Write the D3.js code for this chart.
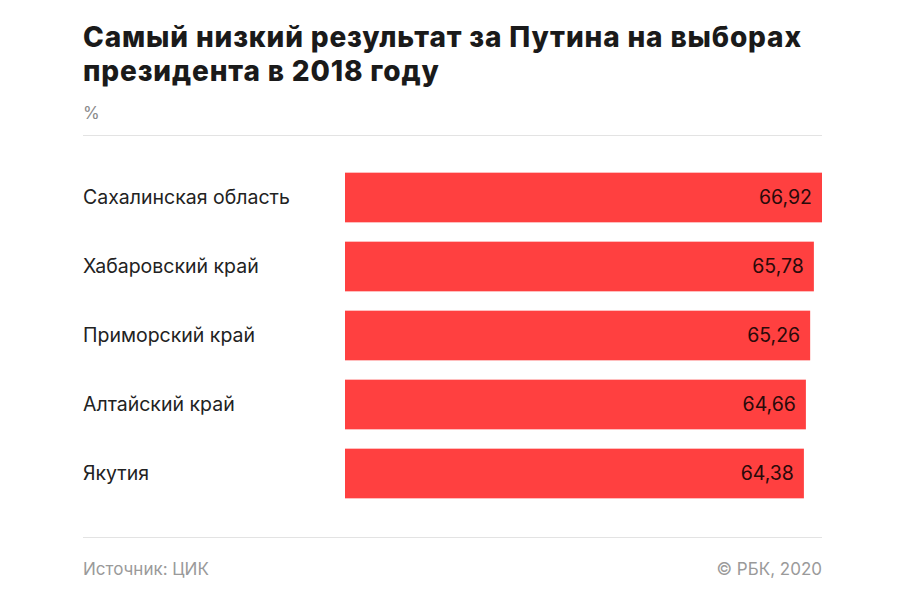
<!DOCTYPE html>
<html><head><meta charset="utf-8">
<script src="https://cdn.jsdelivr.net/npm/d3@7"></script>
<style>body{margin:0;background:#fff;} svg{display:block;}</style>
</head><body>
<svg id="chart" width="900" height="600"></svg>
<script>
const categories = ["Сахалинская область","Хабаровский край","Приморский край","Алтайский край","Якутия"];
const values = [66.92, 65.78, 65.26, 64.66, 64.38];
const valueLabels = ["66,92","65,78","65,26","64,66","64,38"];
const titleLines = ["Самый низкий результат за Путина на выборах","президента в 2018 году"];

const svg = d3.select("#chart");
const font = "Inter, 'Open Sans', sans-serif";
const left = 83, right = 822;

svg.selectAll("text.title").data(titleLines).join("text")
  .attr("class","title")
  .attr("x", left).attr("y", (d,i)=>47 + i*34)
  .attr("font-family", font).attr("font-weight", 800).attr("font-size", 28)
  .attr("letter-spacing", 0.85)
  .attr("fill", "#1a1a1a").text(d=>d);

svg.append("text").attr("x", left).attr("y", 119)
  .attr("font-family", font).attr("font-size", 17).attr("fill", "#8a8a8a").text("%");

svg.append("line").attr("x1", left).attr("x2", right).attr("y1", 135.5).attr("y2", 135.5)
  .attr("stroke", "#e3e3e3").attr("stroke-width", 1);
svg.append("line").attr("x1", left).attr("x2", right).attr("y1", 537.5).attr("y2", 537.5)
  .attr("stroke", "#e3e3e3").attr("stroke-width", 1);

const x = d3.scaleLinear().domain([0, values[0]]).range([0, right - 345]);
const y = d3.scaleBand().domain(categories).range([163, 508]).paddingInner(0.28).paddingOuter(0.14);

const g = svg.append("g");
g.selectAll("rect").data(categories).join("rect")
  .attr("x", 345).attr("y", d=>y(d)).attr("height", y.bandwidth())
  .attr("width", (d,i)=>x(values[i])).attr("fill", "#ff4040");

g.selectAll("text.cat").data(categories).join("text")
  .attr("class","cat").attr("x", left).attr("y", d=>y(d)+y.bandwidth()/2)
  .attr("dy","0.35em").attr("font-family", font).attr("font-size", 19.5)
  .attr("fill", "#222").text(d=>d);

g.selectAll("text.val").data(categories).join("text")
  .attr("class","val").attr("x", (d,i)=>345 + x(values[i]) - 10)
  .attr("y", d=>y(d)+y.bandwidth()/2).attr("dy","0.35em")
  .attr("text-anchor","end").attr("font-family", font).attr("font-size", 19.5)
  .attr("fill", "#2a0a0a").text((d,i)=>valueLabels[i]);

svg.append("text").attr("x", left).attr("y", 575)
  .attr("font-family", font).attr("font-size", 17).attr("fill", "#9a9a9a").text("Источник: ЦИК");
svg.append("text").attr("x", right).attr("y", 575).attr("text-anchor","end")
  .attr("font-family", font).attr("font-size", 17).attr("fill", "#9a9a9a").text("© РБК, 2020");
</script>
</body></html>
